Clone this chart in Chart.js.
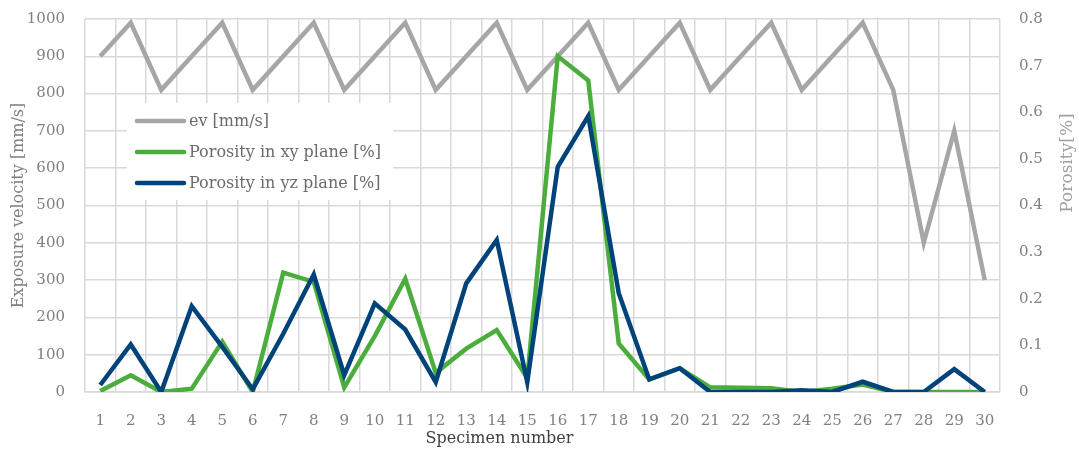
<!DOCTYPE html>
<html>
<head>
<meta charset="utf-8">
<style>
  html, body { margin: 0; padding: 0; background: #ffffff; }
  #wrap { width: 1079px; height: 450px; position: relative; }
</style>
<script src="https://cdn.jsdelivr.net/npm/chart.js@4.4.1/dist/chart.umd.min.js"></script>
</head>
<body>
<div id="wrap"><canvas id="chart" width="1079" height="450"></canvas></div>
<script>
// Specimen numbers along the x axis
const specimens = ['1','2','3','4','5','6','7','8','9','10','11','12','13','14','15',
                   '16','17','18','19','20','21','22','23','24','25','26','27','28','29','30'];

// Exposure velocity ev [mm/s] (left axis)
const exposureVelocity = [900, 990, 810, 900, 990, 810, 900, 990, 810, 900,
                          990, 810, 900, 990, 810, 900, 990, 810, 900, 990,
                          810, 900, 990, 810, 900, 990, 810, 400, 700, 300];

// Porosity in the xy plane [%] (right axis)
const porosityXY = [0.002, 0.036, 0, 0.007, 0.108, 0, 0.256, 0.236, 0.010, 0.120,
                    0.243, 0.041, 0.093, 0.133, 0.030, 0.720, 0.668, 0.104, 0.027, 0.051,
                    0.010, 0.009, 0.008, 0, 0.007, 0.016, 0, 0, 0, 0];

// Porosity in the yz plane [%] (right axis)
const porosityYZ = [0.015, 0.102, 0, 0.184, 0.097, 0.006, 0.125, 0.252, 0.036, 0.190,
                    0.134, 0.021, 0.233, 0.326, 0.021, 0.483, 0.592, 0.212, 0.027, 0.051,
                    0, 0, 0, 0.004, 0, 0.022, 0, 0, 0.049, 0];

const seriesLabels = ['ev [mm/s]', 'Porosity in xy plane [%]', 'Porosity in yz plane [%]'];
const seriesColors = ['#a6a6a6', '#4bae3c', '#00427a'];

const FONT = 'DejaVu Serif';
const GRID = '#d9d9d9';

// Axis titles that sit outside the default title slots, plus the boxed legend
const decorations = {
  id: 'decorations',
  afterDatasetsDraw(chart) {
    const ctx = chart.ctx;
    const area = chart.chartArea;
    ctx.save();

    // Legend box inside the plot
    const bx = area.left + 42, by = area.top + 84, bw = 266, bh = 97;
    ctx.fillStyle = '#ffffff';
    ctx.fillRect(bx, by, bw, bh);
    ctx.font = '16px "' + FONT + '"';
    ctx.textBaseline = 'middle';
    ctx.textAlign = 'left';
    chart.data.datasets.forEach((ds, i) => {
      const y = by + 18 + i * 31;
      ctx.strokeStyle = ds.borderColor;
      ctx.lineWidth = 4.5;
      ctx.lineCap = 'round';
      ctx.beginPath();
      ctx.moveTo(bx + 10, y);
      ctx.lineTo(bx + 57, y);
      ctx.stroke();
      ctx.fillStyle = '#6b6b6b';
      ctx.fillText(ds.label, bx + 62, y + 1);
    });

    // x axis title
    ctx.font = '16px "' + FONT + '"';
    ctx.fillStyle = '#404040';
    ctx.textAlign = 'center';
    ctx.textBaseline = 'middle';
    ctx.fillText('Specimen number', (area.left + area.right) / 2 - 43, area.bottom + 47);

    // right axis title, reading upwards
    ctx.translate(chart.width - 11, area.top + 144);
    ctx.rotate(-Math.PI / 2);
    ctx.font = '17px "' + FONT + '"';
    ctx.fillStyle = '#a0a0a0';
    ctx.fillText('Porosity[%]', 0, 0);
    ctx.restore();
  }
};

const plainNumber = (value) => String(Math.round(value * 1000) / 1000);

// Fixed widths for the value axes; the top label overhang is covered by layout padding
const fitValueAxis = (width) => (scale) => {
  scale.width = width;
  scale.paddingTop = 0;
  scale.paddingBottom = 0;
};

new Chart(document.getElementById('chart'), {
  type: 'line',
  data: {
    labels: specimens,
    datasets: [
      { label: seriesLabels[0], data: exposureVelocity, yAxisID: 'y',
        borderColor: seriesColors[0], backgroundColor: seriesColors[0], order: 3 },
      { label: seriesLabels[1], data: porosityXY, yAxisID: 'y1',
        borderColor: seriesColors[1], backgroundColor: seriesColors[1], order: 2 },
      { label: seriesLabels[2], data: porosityYZ, yAxisID: 'y1',
        borderColor: seriesColors[2], backgroundColor: seriesColors[2], order: 1 }
    ]
  },
  options: {
    responsive: false,
    animation: false,
    layout: { padding: { top: 19, left: 0, right: 0, bottom: 0 } },
    elements: {
      line: { borderWidth: 4.5, tension: 0, borderJoinStyle: 'miter' },
      point: { radius: 0, hoverRadius: 0 }
    },
    plugins: { legend: { display: false }, tooltip: { enabled: false } },
    scales: {
      x: {
        type: 'category',
        offset: true,
        grid: { offset: true, color: GRID, lineWidth: 1.5, drawTicks: false },
        border: { color: GRID, width: 1.5 },
        ticks: { color: '#808080', padding: 20, autoSkip: false, maxRotation: 0,
                 font: { family: FONT, size: 15 } },
        afterFit(scale) { scale.height = 58; }
      },
      y: {
        position: 'left',
        min: 0, max: 1000,
        ticks: { stepSize: 100, color: '#808080', padding: 20, callback: plainNumber,
                 font: { family: FONT, size: 15 } },
        grid: { color: GRID, lineWidth: 1.5, drawTicks: false },
        border: { display: false },
        title: { display: true, text: 'Exposure velocity [mm/s]', color: '#7f7f7f',
                 font: { family: FONT, size: 16 }, padding: { top: 9, bottom: 0 } },
        afterFit: fitValueAxis(85)
      },
      y1: {
        position: 'right',
        min: 0, max: 0.8,
        ticks: { stepSize: 0.1, color: '#808080', padding: 19, callback: plainNumber,
                 font: { family: FONT, size: 15 } },
        grid: { drawOnChartArea: false, drawTicks: false },
        border: { display: false },
        afterFit: fitValueAxis(79)
      }
    }
  },
  plugins: [decorations]
});
</script>
</body>
</html>
